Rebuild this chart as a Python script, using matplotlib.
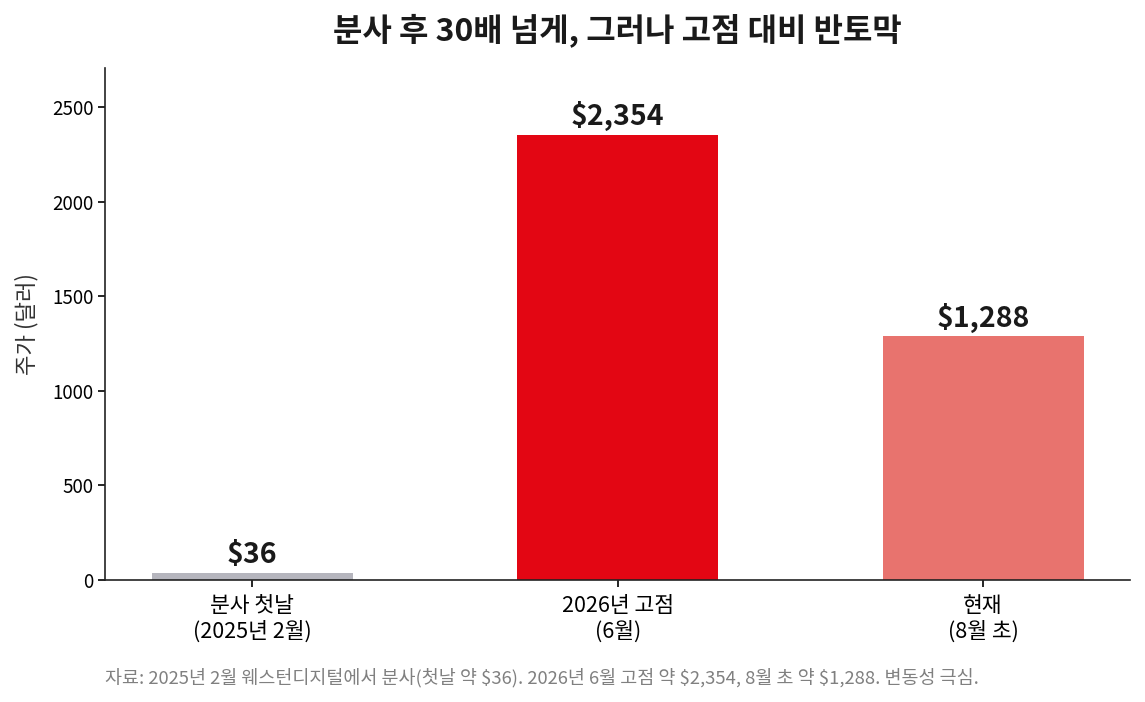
import matplotlib
matplotlib.use("Agg")
import matplotlib.pyplot as plt

plt.rcParams['font.family'] = ['Noto Sans CJK KR', 'DejaVu Sans']

# 데이터
labels = ['분사 첫날\n(2025년 2월)', '2026년 고점\n(6월)', '현재\n(8월 초)']
prices = [36, 2354, 1288]
value_text = ['$36', '$2,354', '$1,288']
colors = ['#b5b5bd', '#e30613', '#e8736e']

fig, ax = plt.subplots(figsize=(11.45, 7.02), dpi=100)
fig.subplots_adjust(left=0.092, right=0.987, top=0.903, bottom=0.174)

x = range(len(prices))
bars = ax.bar(x, prices, width=0.55, color=colors)

for b, t in zip(bars, value_text):
    ax.text(b.get_x() + b.get_width() / 2, b.get_height() + 20, t,
            ha='center', va='bottom', fontsize=20.5, fontweight='bold', color='#1a1a1a')

ax.set_xticks(list(x))
ax.set_xticklabels(labels, fontsize=15.5, linespacing=1.2)
ax.set_ylim(0, 2707)
ax.tick_params(axis='y', labelsize=13.5, length=5, width=1.2)
ax.tick_params(axis='x', pad=6, length=5, width=1.2)
ax.set_ylabel('주가 (달러)', fontsize=16, color='#333333', labelpad=10)
ax.set_title('분사 후 30배 넘게, 그러나 고점 대비 반토막', fontsize=23, fontweight='bold',
             color='#1a1a1a', pad=20)

for s in ['top', 'right']:
    ax.spines[s].set_visible(False)
for s in ['left', 'bottom']:
    ax.spines[s].set_color('#222222')
    ax.spines[s].set_linewidth(1.2)

fig.text(0.092, 0.021, '자료: 2025년 2월 웨스턴디지털에서 분사(첫날 약 $36). 2026년 6월 고점 약 $2,354, 8월 초 약 $1,288. 변동성 극심.',
         fontsize=13.3, color='#808080', ha='left', va='bottom')

plt.savefig('out.png', dpi=100)
